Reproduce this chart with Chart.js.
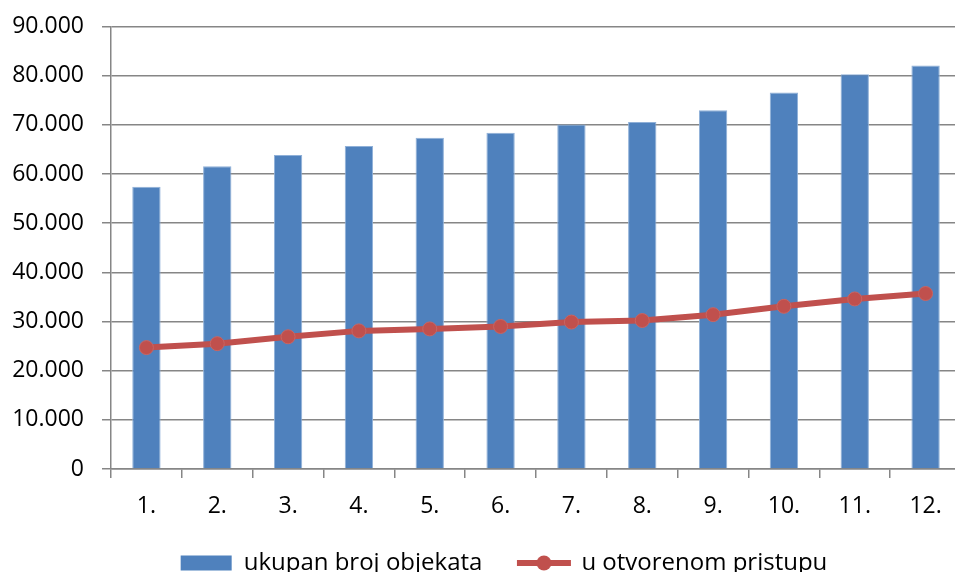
<!DOCTYPE html>
<html>
<head>
<meta charset="utf-8">
<script src="https://cdn.jsdelivr.net/npm/chart.js@4"></script>
<style>
  html, body { margin: 0; padding: 0; background: #fff; overflow: hidden; }
  #wrap { width: 969px; height: 572px; }
</style>
</head>
<body>
<div id="wrap"><canvas id="grafikon"></canvas></div>
<script>
// Podaci očitani sa slike
const kategorije = ["1.", "2.", "3.", "4.", "5.", "6.", "7.", "8.", "9.", "10.", "11.", "12."];
const ukupanBroj = [57400, 61600, 63900, 65700, 67400, 68400, 70100, 70600, 73000, 76600, 80300, 82100];
const otvoreniPristup = [24700, 25500, 26900, 28100, 28500, 29000, 29900, 30200, 31400, 33100, 34600, 35700];
const nazivi = ["ukupan broj objekata", "u otvorenom pristupu"];

const plava = "#4F81BD";
const crvena = "#C0504D";
const siva = "#868686";
const obitelj = "'Open Sans', 'DejaVu Sans', sans-serif";

// sličica linije s kružićem za legendu
const ikona = document.createElement("canvas");
ikona.width = 56; ikona.height = 18;
(function () {
  const c = ikona.getContext("2d");
  c.strokeStyle = crvena; c.lineWidth = 6;
  c.beginPath(); c.moveTo(1, 9); c.lineTo(55, 9); c.stroke();
  c.fillStyle = crvena;
  c.beginPath(); c.arc(28, 9, 7.5, 0, Math.PI * 2); c.fill();
})();

// legenda u originalu je centrirana na neodrezanu sliku, pa je malo pomaknemo udesno
const pomakLegende = {
  id: "pomakLegende",
  afterLayout(chart) {
    chart.legend.left += 20;
    chart.legend.right += 20;
  },
};

const formatBroja = (v) => v === 0 ? "0" : (v / 1000) + ".000";

const ctx = document.getElementById("grafikon").getContext("2d");
new Chart(ctx, {
  data: {
    labels: kategorije,
    datasets: [
      {
        type: "bar",
        label: nazivi[0],
        data: ukupanBroj,
        backgroundColor: plava,
        borderColor: "#8fb0d8",
        borderWidth: 1,
        barPercentage: 0.4,
        categoryPercentage: 1,
        order: 1,
      },
      {
        type: "line",
        label: nazivi[1],
        data: otvoreniPristup,
        borderColor: crvena,
        backgroundColor: crvena,
        borderWidth: 6,
        pointRadius: 7,
        pointBorderWidth: 1,
        pointBorderColor: "#c86563",
        tension: 0,
        order: 0,
      },
    ],
  },
  plugins: [pomakLegende],
  options: {
    responsive: true,
    maintainAspectRatio: false,
    animation: false,
    layout: { padding: { top: 26, right: 1, left: 0, bottom: -13 } },
    scales: {
      x: {
        offset: true,
        grid: { drawOnChartArea: false, color: siva, lineWidth: 1.5, tickLength: 9, offset: true },
        border: { color: siva, width: 1.5 },
        ticks: { color: "#000", font: { family: obitelj, size: 23 }, padding: 15 },
        afterFit: (s) => { s.height = 46; },
      },
      y: {
        min: 0,
        max: 90000,
        grid: { color: siva, lineWidth: 1.5, tickLength: 9 },
        border: { color: siva, width: 1.5 },
        ticks: {
          stepSize: 10000,
          color: "#000",
          font: { family: obitelj, size: 23, lineHeight: 0.75 },
          padding: 18,
          callback: formatBroja,
        },
        afterFit: (s) => { s.width = 111; },
      },
    },
    plugins: {
      tooltip: { enabled: false },
      legend: {
        position: "bottom",
        labels: {
          color: "#000",
          font: { family: obitelj, size: 24 },
          usePointStyle: true,
          pointStyleWidth: 51,
          boxHeight: 15,
          padding: 36,
          generateLabels: () => [
            { text: nazivi[0], fillStyle: plava, strokeStyle: plava, lineWidth: 0, pointStyle: "rect", datasetIndex: 0 },
            { text: nazivi[1], fillStyle: crvena, strokeStyle: crvena, lineWidth: 0, pointStyle: ikona, datasetIndex: 1 },
          ],
        },
      },
    },
  },
});
</script>
</body>
</html>
